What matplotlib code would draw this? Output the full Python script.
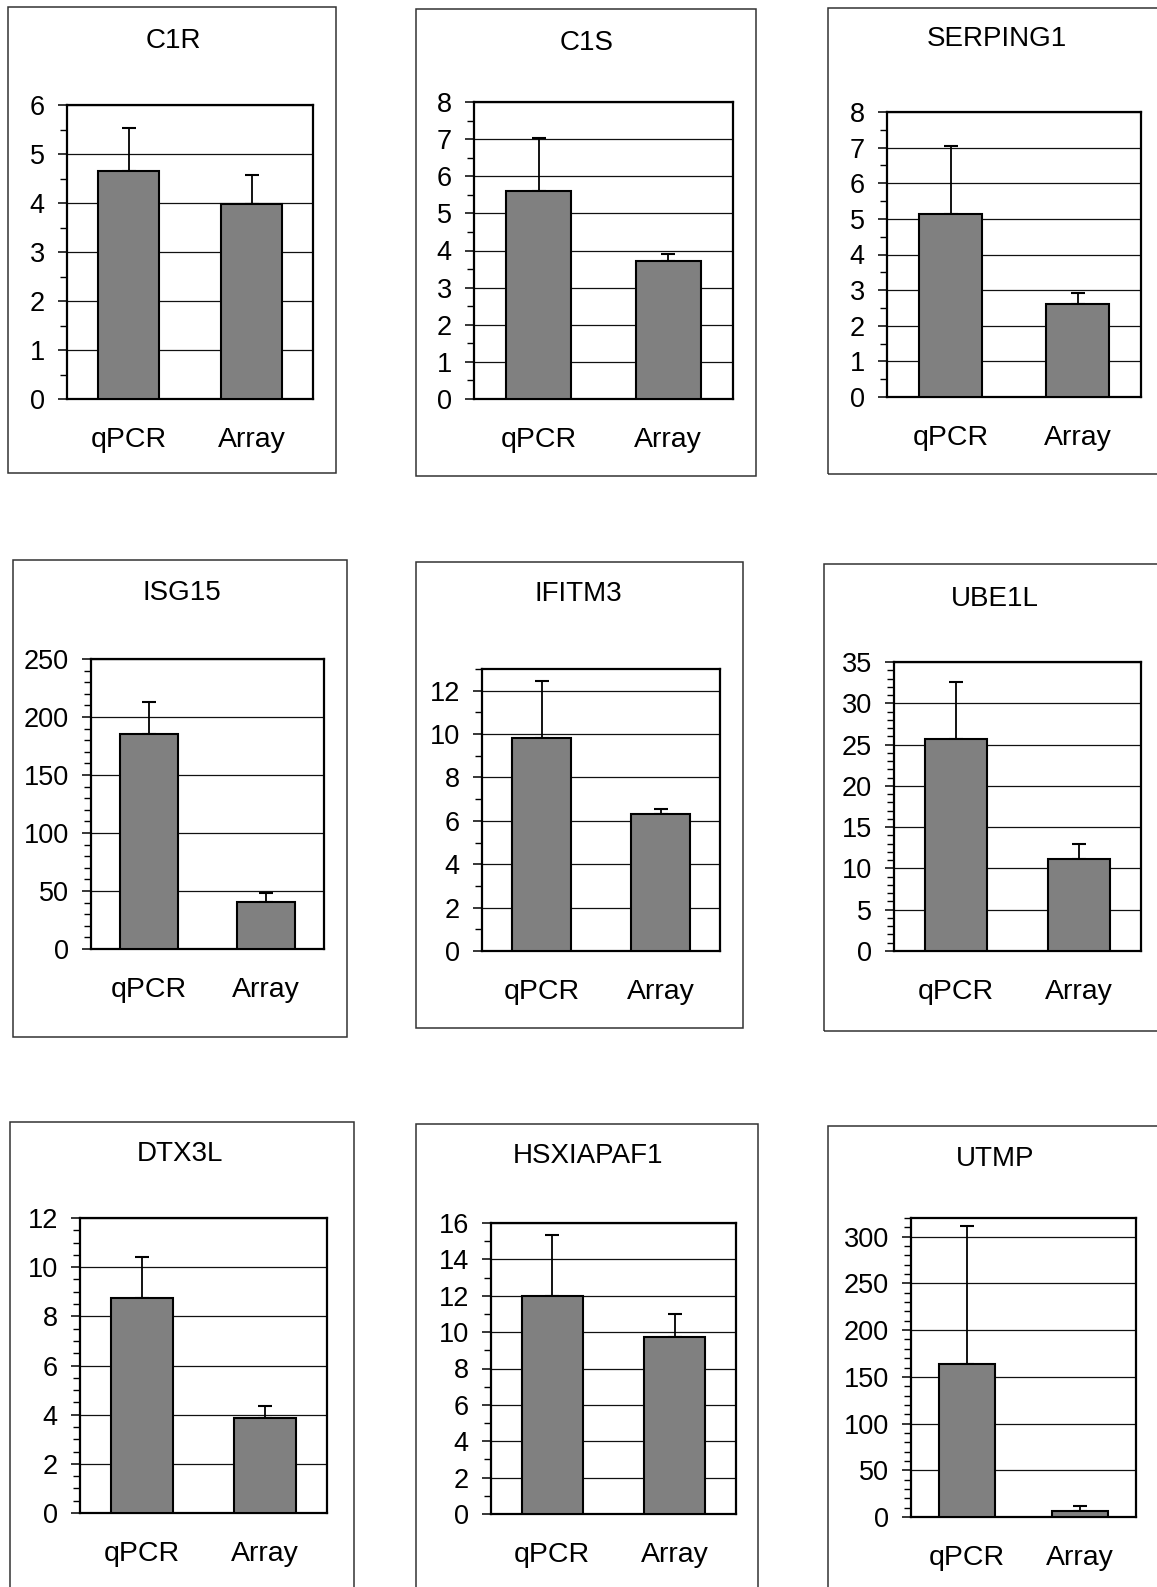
import numpy as np
import matplotlib
matplotlib.use("Agg")
import matplotlib.pyplot as plt
from matplotlib.patches import Rectangle
from matplotlib.ticker import MultipleLocator

plt.rcParams["font.family"] = ["Liberation Sans", "DejaVu Sans"]

W, H = 1157, 1587

# values
genes = ["C1R", "C1S", "SERPING1", "ISG15", "IFITM3", "UBE1L", "DTX3L", "HSXIAPAF1", "UTMP"]
methods = ["qPCR", "Array"]
qpcr = [4.66, 5.6, 5.15, 185.6, 9.8, 25.7, 8.75, 12.0, 163.9]
qpcr_err = [0.88, 1.42, 1.9, 27.1, 2.64, 6.9, 1.65, 3.36, 147.8]
array = [3.97, 3.72, 2.6, 40.8, 6.32, 11.2, 3.85, 9.74, 6.8]
array_err = [0.61, 0.18, 0.31, 7.7, 0.22, 1.7, 0.49, 1.26, 4.6]
ymax = [6, 8, 8, 250, 13, 35, 12, 16, 320]
major = [1, 1, 1, 50, 2, 5, 2, 2, 50]
minor = [0.5, 0.5, 0.5, 10, 1, 1, 0.5, 1, 10]

# pixel layout: outer box, plot area, title centre
boxes = [(8, 7, 336, 473), (416, 9, 756, 476), (828, 8, 1170, 474),
         (13, 560, 347, 1037), (416, 562, 743, 1028), (824, 564, 1170, 1031),
         (10, 1122, 354, 1600), (416, 1124, 758, 1600), (828, 1126, 1170, 1600)]
plots = [(67, 105, 313, 399), (474, 102, 733, 399), (887, 112, 1141, 397),
         (91, 659, 324, 949), (482, 669, 720, 951), (894, 662, 1141, 951),
         (80, 1218, 327, 1513), (491, 1223, 736, 1514), (911, 1218, 1136, 1517)]
titles = [(173, 41), (587, 43), (997, 39), (182, 593), (578, 594), (995, 599),
          (180, 1154), (588, 1156), (995, 1159)]

fig = plt.figure(figsize=(W / 100, H / 100), dpi=100)

for i, g in enumerate(genes):
    bx0, by0, bx1, by1 = boxes[i]
    fig.patches.append(Rectangle((bx0 / W, 1 - by1 / H), (bx1 - bx0) / W, (by1 - by0) / H,
                                 transform=fig.transFigure, fill=False,
                                 edgecolor="#333333", lw=1.1))
    tx, ty = titles[i]
    fig.text(tx / W, 1 - ty / H, g, ha="center", va="center", fontsize=20)

    x0, y0, x1, y1 = plots[i]
    ax = fig.add_axes([x0 / W, 1 - y1 / H, (x1 - x0) / W, (y1 - y0) / H])
    vals = [qpcr[i], array[i]]
    errs = [[0, 0], [qpcr_err[i], array_err[i]]]
    xs = np.arange(len(methods))
    ax.bar(xs, vals, width=0.5, color="#808080", edgecolor="black", lw=1.5, zorder=3)
    ax.errorbar(xs, vals, yerr=errs, fmt="none", ecolor="black", elinewidth=1.3,
                capsize=4.7, capthick=1.5, zorder=2)
    ax.set_xlim(-0.5, 1.5)
    ax.set_ylim(0, ymax[i])
    ax.set_xticks(xs)
    ax.set_xticklabels(methods, fontsize=20.5)
    ax.tick_params(axis="x", length=0, pad=20.5)
    ax.yaxis.set_major_locator(MultipleLocator(major[i]))
    ax.yaxis.set_minor_locator(MultipleLocator(minor[i]))
    ax.tick_params(axis="y", which="major", length=6.5, width=1.1, labelsize=19.5, pad=9.5)
    ax.tick_params(axis="y", which="minor", length=5, width=1.0)
    ax.yaxis.grid(True, which="major", color="#111111", lw=0.9, zorder=0)
    ax.set_axisbelow(True)
    for s in ax.spines.values():
        s.set_linewidth(1.6)

fig.savefig("out.png", dpi=100)
